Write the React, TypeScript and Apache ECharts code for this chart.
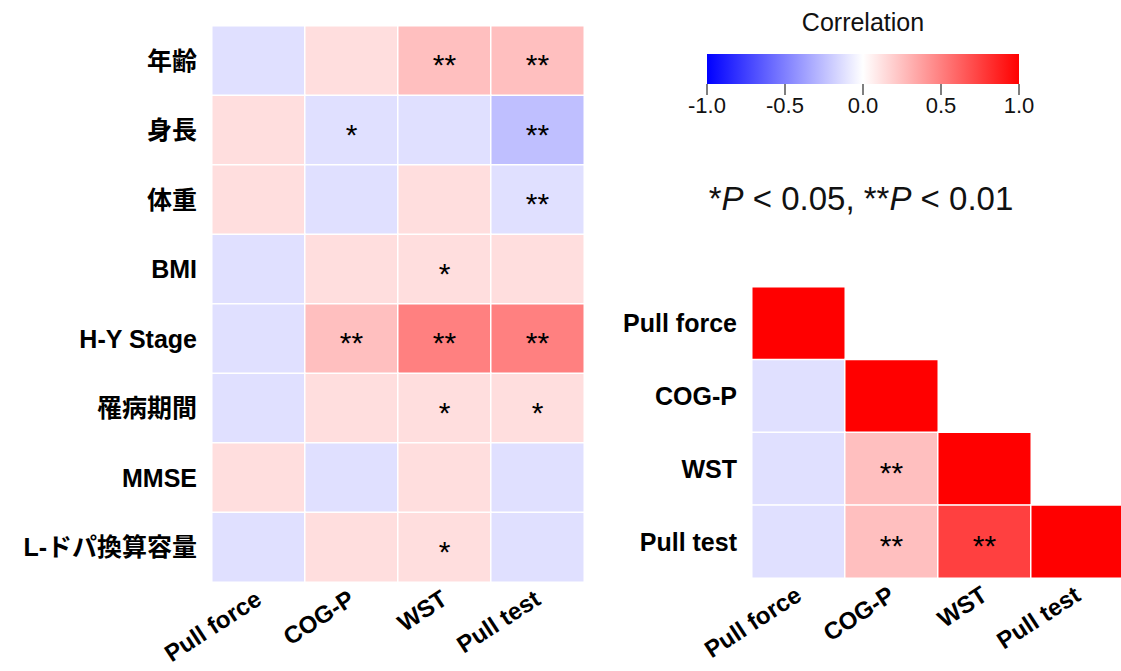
import React, { useEffect, useRef } from "react";
import * as echarts from "echarts";

const leftRows = ["年齢", "身長", "体重", "BMI", "H-Y Stage", "罹病期間", "MMSE", "L-ドパ換算容量"];
const vars = ["Pull force", "COG-P", "WST", "Pull test"];

// correlation values (rows x vars)
const leftValues = [
  [-0.12, 0.13, 0.25, 0.25],
  [0.13, -0.12, -0.12, -0.25],
  [0.13, -0.12, 0.13, -0.12],
  [-0.12, 0.13, 0.13, 0.13],
  [-0.12, 0.25, 0.5, 0.5],
  [-0.12, 0.13, 0.13, 0.13],
  [0.13, -0.12, 0.13, -0.12],
  [-0.12, 0.13, 0.13, -0.12],
];
const leftSig = [
  ["", "", "**", "**"],
  ["", "*", "", "**"],
  ["", "", "", "**"],
  ["", "", "*", ""],
  ["", "**", "**", "**"],
  ["", "", "*", "*"],
  ["", "", "", ""],
  ["", "", "*", ""],
];
// lower triangle of the inter-variable correlation matrix
const rightValues = [
  [1],
  [-0.12, 1],
  [-0.12, 0.25, 1],
  [-0.12, 0.25, 0.75, 1],
];
const rightSig = [
  [""],
  ["", ""],
  ["", "**", ""],
  ["", "**", "**", ""],
];
const scaleTicks = [-1, -0.5, 0, 0.5, 1];

const FONT = "'Liberation Sans', Arial, 'Noto Sans CJK JP', sans-serif";

export default function App() {
  const ref = useRef<HTMLDivElement>(null);
  useEffect(() => {
    document.body.style.margin = "0";
    const chart = echarts.init(ref.current!, undefined, { renderer: "svg" });

    const leftData: any[] = [];
    leftValues.forEach((row, r) =>
      row.forEach((v, c) => leftData.push({ value: [c, r, v], sig: leftSig[r][c] }))
    );
    const rightData: any[] = [];
    rightValues.forEach((row, r) =>
      row.forEach((v, c) => rightData.push({ value: [c, r, v], sig: rightSig[r][c] }))
    );

    const catAxisLabel = {
      fontFamily: FONT,
      fontWeight: "bold" as const,
      fontSize: 25,
      color: "#000",
    };
    const xCatLabel = { ...catAxisLabel, fontSize: 24, rotate: 33, margin: 14, interval: 0 };

    const cellLabel = {
      show: true,
      formatter: (p: any) => p.data.sig,
      fontFamily: FONT,
      fontSize: 30,
      color: "#000",
      offset: [0, 4],
    };

    chart.setOption({
      animation: false,
      textStyle: { fontFamily: FONT },
      grid: [
        { left: 212, top: 26, width: 372, height: 556, outerBoundsMode: "none", containLabel: false },
        { left: 752, top: 287, width: 372, height: 291, outerBoundsMode: "none", containLabel: false },
        {
          left: 707,
          top: 54,
          width: 312,
          height: 30,
          outerBoundsMode: "none",
          containLabel: false,
          show: true,
          borderWidth: 0,
          backgroundColor: new echarts.graphic.LinearGradient(0, 0, 1, 0, [
            { offset: 0, color: "#0000FF" },
            { offset: 0.5, color: "#FFFFFF" },
            { offset: 1, color: "#FF0000" },
          ]),
        },
      ],
      xAxis: [
        {
          gridIndex: 0,
          type: "category",
          data: vars,
          axisLine: { show: false },
          axisTick: { show: false },
          splitLine: { show: false },
          axisLabel: xCatLabel,
        },
        {
          gridIndex: 1,
          type: "category",
          data: vars,
          axisLine: { show: false },
          axisTick: { show: false },
          splitLine: { show: false },
          axisLabel: xCatLabel,
        },
        {
          gridIndex: 2,
          type: "value",
          min: -1,
          max: 1,
          interval: 0.5,
          axisLine: { show: false },
          splitLine: { show: false },
          axisTick: { show: true, length: 11, lineStyle: { color: "#555", width: 1.5 } },
          axisLabel: {
            formatter: (v: number) => v.toFixed(1),
            fontFamily: FONT,
            fontSize: 22,
            color: "#111",
            margin: 10,
            showMinLabel: true,
            showMaxLabel: true,
          },
        },
      ],
      yAxis: [
        {
          gridIndex: 0,
          type: "category",
          data: leftRows,
          inverse: true,
          axisLine: { show: false },
          axisTick: { show: false },
          splitLine: { show: false },
          axisLabel: { ...catAxisLabel, margin: 15, interval: 0 },
        },
        {
          gridIndex: 1,
          type: "category",
          data: vars,
          inverse: true,
          axisLine: { show: false },
          axisTick: { show: false },
          splitLine: { show: false },
          axisLabel: { ...catAxisLabel, margin: 15, interval: 0 },
        },
        { gridIndex: 2, type: "value", show: false, min: 0, max: 1 },
      ],
      visualMap: {
        show: false,
        type: "continuous",
        min: -1,
        max: 1,
        dimension: 2,
        seriesIndex: [0, 1],
        inRange: { color: ["#0000FF", "#FFFFFF", "#FF0000"] },
      },
      graphic: [
        {
          type: "text",
          x: 863,
          y: 22,
          style: {
            text: "Correlation",
            fontFamily: FONT,
            fontSize: 25,
            fill: "#111",
            align: "center",
            verticalAlign: "middle",
          },
        },
        {
          type: "text",
          x: 861,
          y: 198,
          style: {
            text: "*{i|P} < 0.05, **{i|P} < 0.01",
            fontFamily: FONT,
            fontSize: 33,
            fill: "#111",
            align: "center",
            verticalAlign: "middle",
            rich: {
              i: { fontStyle: "italic", fontFamily: FONT, fontSize: 33, fill: "#111" },
            },
          },
        },
      ],
      series: [
        {
          type: "heatmap",
          xAxisIndex: 0,
          yAxisIndex: 0,
          data: leftData,
          itemStyle: { borderColor: "#FFFFFF", borderWidth: 1.5 },
          label: cellLabel,
          emphasis: { disabled: true },
        },
        {
          type: "heatmap",
          xAxisIndex: 1,
          yAxisIndex: 1,
          data: rightData,
          itemStyle: { borderColor: "#FFFFFF", borderWidth: 1.5 },
          label: cellLabel,
          emphasis: { disabled: true },
        },
        {
          type: "scatter",
          xAxisIndex: 2,
          yAxisIndex: 2,
          data: scaleTicks.map((t) => [t, -5]),
          symbolSize: 0,
          silent: true,
        },
      ],
    });
    return () => chart.dispose();
  }, []);
  return <div ref={ref} style={{ width: 1121, height: 671 }} />;
}
